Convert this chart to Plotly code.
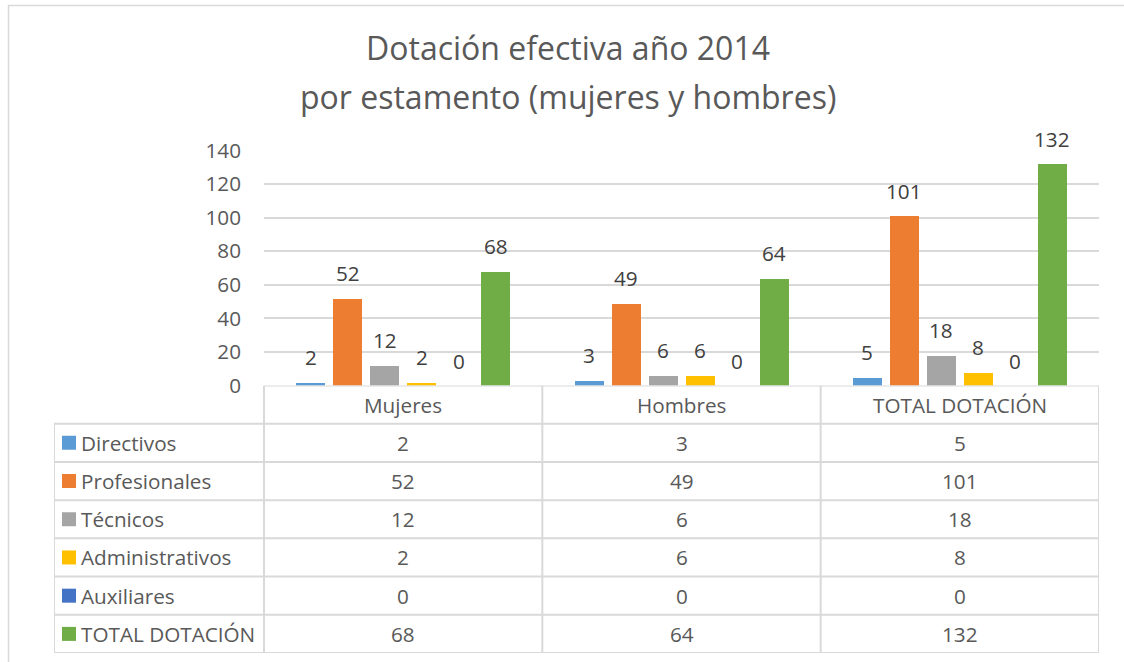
import plotly.graph_objects as go

# ---------------- data ----------------
categories = ["Mujeres", "Hombres", "TOTAL DOTACIÓN"]
series_names = ["Directivos", "Profesionales", "Técnicos", "Administrativos", "Auxiliares", "TOTAL DOTACIÓN"]
directivos = [2, 3, 5]
profesionales = [52, 49, 101]
tecnicos = [12, 6, 18]
administrativos = [2, 6, 8]
auxiliares = [0, 0, 0]
total_dotacion = [68, 64, 132]
y_ticks = [0, 20, 40, 60, 80, 100, 120, 140]
title_lines = ["Dotación efectiva año 2014", "por estamento (mujeres y hombres)"]

series_values = [directivos, profesionales, tecnicos, administrativos, auxiliares, total_dotacion]
colors = ["#5B9BD5", "#ED7D31", "#A5A5A5", "#FFC000", "#4472C4", "#70AD47"]

# ---------------- layout geometry (pixels) ----------------
W, H = 1124, 662
FONT = "Open Sans"
TXT = "#595959"
LBL = "#404040"
GRID = "#D9D9D9"
FS = 20.7
TFS = 32


def px(x):
    return x / W


def py(y):
    return 1 - y / H


plot_l, plot_r, plot_t, plot_b = 264, 1099, 150.5, 385.5
table_l, table_b = 54, 653
ncat = len(categories)
cat_w = (plot_r - plot_l) / ncat
label_w = (plot_l - table_l) / cat_w  # in category units

nser = len(series_names)
slot = 37 / cat_w
bar_w = 29 / cat_w

fig = go.Figure()

for i, (name, vals, col) in enumerate(zip(series_names, series_values, colors)):
    off = (-nser / 2 + i) * slot + (slot - bar_w) / 2
    fig.add_trace(go.Bar(
        x=categories, y=vals, name=name, marker=dict(color=col, line=dict(width=0)),
        offset=off, width=bar_w, showlegend=False, xaxis="x", yaxis="y",
        hoverinfo="x+y+name",
    ))

annotations = []
# data labels
for i, vals in enumerate(series_values):
    for j, v in enumerate(vals):
        annotations.append(dict(
            x=j + (-nser / 2 + i + 0.5) * slot, y=v, xref="x", yref="y",
            text=str(v), showarrow=False, yanchor="middle", yshift=25,
            font=dict(family=FONT, size=FS, color=LBL),
        ))

# title
annotations.append(dict(x=px(567.5), y=py(47), xref="paper", yref="paper", text=title_lines[0],
                        showarrow=False, xanchor="center", yanchor="middle",
                        font=dict(family=FONT, size=TFS, color=TXT)))
annotations.append(dict(x=px(567.5), y=py(96), xref="paper", yref="paper", text=title_lines[1],
                        showarrow=False, xanchor="center", yanchor="middle",
                        font=dict(family=FONT, size=TFS, color=TXT)))

shapes = []
# outer chart frame
shapes.append(dict(type="line", xref="paper", yref="paper", x0=px(8), x1=1.01, y0=py(5.5), y1=py(5.5),
                   line=dict(color=GRID, width=1.5)))
shapes.append(dict(type="line", xref="paper", yref="paper", x0=px(8.5), x1=px(8.5), y0=py(5.5), y1=-0.01,
                   line=dict(color=GRID, width=1.5)))

# data table (x2 / y2 axes)
nrows = nser + 1
left_edge = -0.5 - label_w
tline = dict(color=GRID, width=2)
for r in range(nrows + 1):
    x0 = -0.5 if r == 0 else left_edge
    shapes.append(dict(type="line", xref="x2", yref="y2", x0=x0, x1=ncat - 0.5, y0=r, y1=r, line=tline))
shapes.append(dict(type="line", xref="x2", yref="y2", x0=left_edge, x1=left_edge, y0=1, y1=nrows, line=tline))
for c in range(ncat + 1):
    shapes.append(dict(type="line", xref="x2", yref="y2", x0=c - 0.5, x1=c - 0.5, y0=0, y1=nrows, line=tline))

# header
for j, cat in enumerate(categories):
    annotations.append(dict(x=j, y=0.5, xref="x2", yref="y2", text=cat, showarrow=False,
                            xanchor="center", yanchor="middle", font=dict(family=FONT, size=FS, color=TXT)))
# rows
for i, (name, vals, col) in enumerate(zip(series_names, series_values, colors)):
    yc = i + 1.5
    shapes.append(dict(type="rect", xref="x2", yref="y2", xsizemode="pixel", ysizemode="pixel",
                       xanchor=left_edge, yanchor=yc, x0=8, x1=22, y0=-7, y1=7,
                       fillcolor=col, line=dict(width=0)))
    annotations.append(dict(x=left_edge, y=yc, xref="x2", yref="y2", text=name, showarrow=False,
                            xanchor="left", yanchor="middle", xshift=25,
                            font=dict(family=FONT, size=FS, color=TXT)))
    for j, v in enumerate(vals):
        annotations.append(dict(x=j, y=yc, xref="x2", yref="y2", text=str(v), showarrow=False,
                                xanchor="center", yanchor="middle",
                                font=dict(family=FONT, size=FS, color=TXT)))

fig.update_layout(
    template="none",
    width=W, height=H,
    margin=dict(l=0, r=0, t=0, b=0, pad=0, autoexpand=False),
    paper_bgcolor="white", plot_bgcolor="white",
    font=dict(family=FONT, color=TXT),
    xaxis=dict(domain=[px(plot_l), px(plot_r)], type="category", categoryorder="array",
               categoryarray=categories, range=[-0.5, ncat - 0.5], showticklabels=False,
               showgrid=False, zeroline=False, showline=False, ticks="", anchor="y",
               automargin=False, fixedrange=True),
    yaxis=dict(domain=[py(plot_b), py(plot_t)], range=[0, 140], tickvals=y_ticks,
               showgrid=True, gridcolor=GRID, gridwidth=1.5, zeroline=False, showline=False,
               ticks="", tickfont=dict(family=FONT, size=FS, color=TXT), ticklabelstandoff=22,
               anchor="x", automargin=False, fixedrange=True),
    xaxis2=dict(domain=[px(table_l), px(plot_r)], range=[left_edge, ncat - 0.5], visible=False,
                anchor="y2", automargin=False, fixedrange=True),
    yaxis2=dict(domain=[py(table_b), py(plot_b)], range=[nrows, 0], visible=False,
                anchor="x2", automargin=False, fixedrange=True),
    annotations=annotations,
    shapes=shapes,
    bargap=0,
)

fig.write_html("out.html", config={"displayModeBar": False},
               post_script="document.body.style.margin='0';document.body.style.overflow='hidden';")
